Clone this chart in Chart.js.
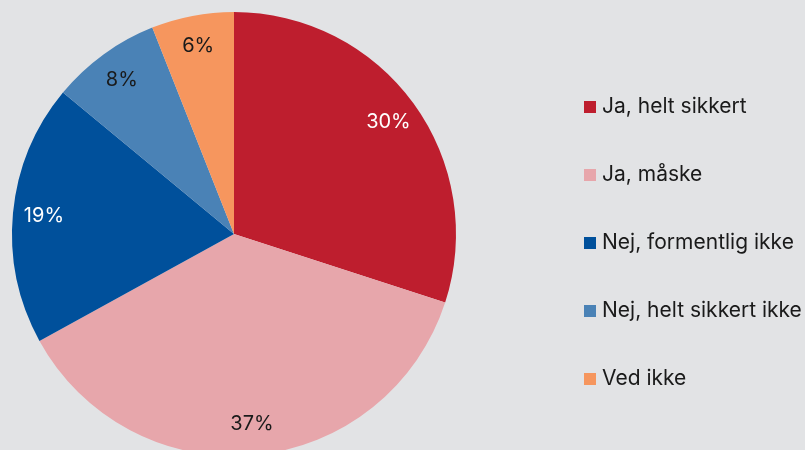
<!DOCTYPE html>
<html lang="da">
<head>
    <meta charset="UTF-8">
    <title>Pie chart</title>
    <script src="https://cdn.jsdelivr.net/npm/chart.js"></script>
    <style>
        html, body {
            margin: 0;
            padding: 0;
            background-color: #e2e3e5;
            overflow: hidden;
        }
        #wrap {
            width: 805px;
            height: 450px;
        }
    </style>
</head>
<body>
<div id="wrap"><canvas id="pie"></canvas></div>

<script>
    const categories = ['Ja, helt sikkert', 'Ja, måske', 'Nej, formentlig ikke', 'Nej, helt sikkert ikke', 'Ved ikke'];
    const shares = [30, 37, 19, 8, 6];
    const sliceColors = ['#be1e2e', '#e7a6ab', '#00509b', '#4a82b6', '#f6965e'];
    const labelColors = ['#ffffff', '#1a1a1a', '#ffffff', '#1a1a1a', '#1a1a1a'];

    // percent labels inside the slices
    const sliceLabels = {
        id: 'sliceLabels',
        afterDatasetsDraw(chart) {
            const ctx = chart.ctx;
            const meta = chart.getDatasetMeta(0);
            ctx.save();
            ctx.font = '20px Inter';
            ctx.textAlign = 'center';
            ctx.textBaseline = 'middle';
            meta.data.forEach((arc, i) => {
                const mid = (arc.startAngle + arc.endAngle) / 2;
                const r = arc.outerRadius * 0.86;
                ctx.fillStyle = labelColors[i];
                ctx.fillText(shares[i] + '%', arc.x + Math.cos(mid) * r, arc.y + Math.sin(mid) * r);
            });
            ctx.restore();
        }
    };

    // legend on the right
    const sideLegend = {
        id: 'sideLegend',
        afterDraw(chart) {
            const ctx = chart.ctx;
            ctx.save();
            ctx.font = '21px Inter';
            ctx.textBaseline = 'middle';
            categories.forEach((name, i) => {
                const y = 107 + i * 68;
                ctx.fillStyle = sliceColors[i];
                ctx.fillRect(584, y - 6, 12, 12);
                ctx.fillStyle = '#1a1a1a';
                ctx.fillText(name, 602, y);
            });
            ctx.restore();
        }
    };

    new Chart(document.getElementById('pie'), {
        type: 'pie',
        data: {
            labels: categories,
            datasets: [{
                data: shares,
                backgroundColor: sliceColors,
                borderWidth: 0
            }]
        },
        options: {
            responsive: true,
            maintainAspectRatio: false,
            animation: false,
            radius: 222,
            layout: {
                padding: {left: 12, right: 349, top: 18, bottom: 0}
            },
            plugins: {
                legend: {display: false},
                tooltip: {enabled: false}
            }
        },
        plugins: [sliceLabels, sideLegend]
    });
</script>
</body>
</html>
